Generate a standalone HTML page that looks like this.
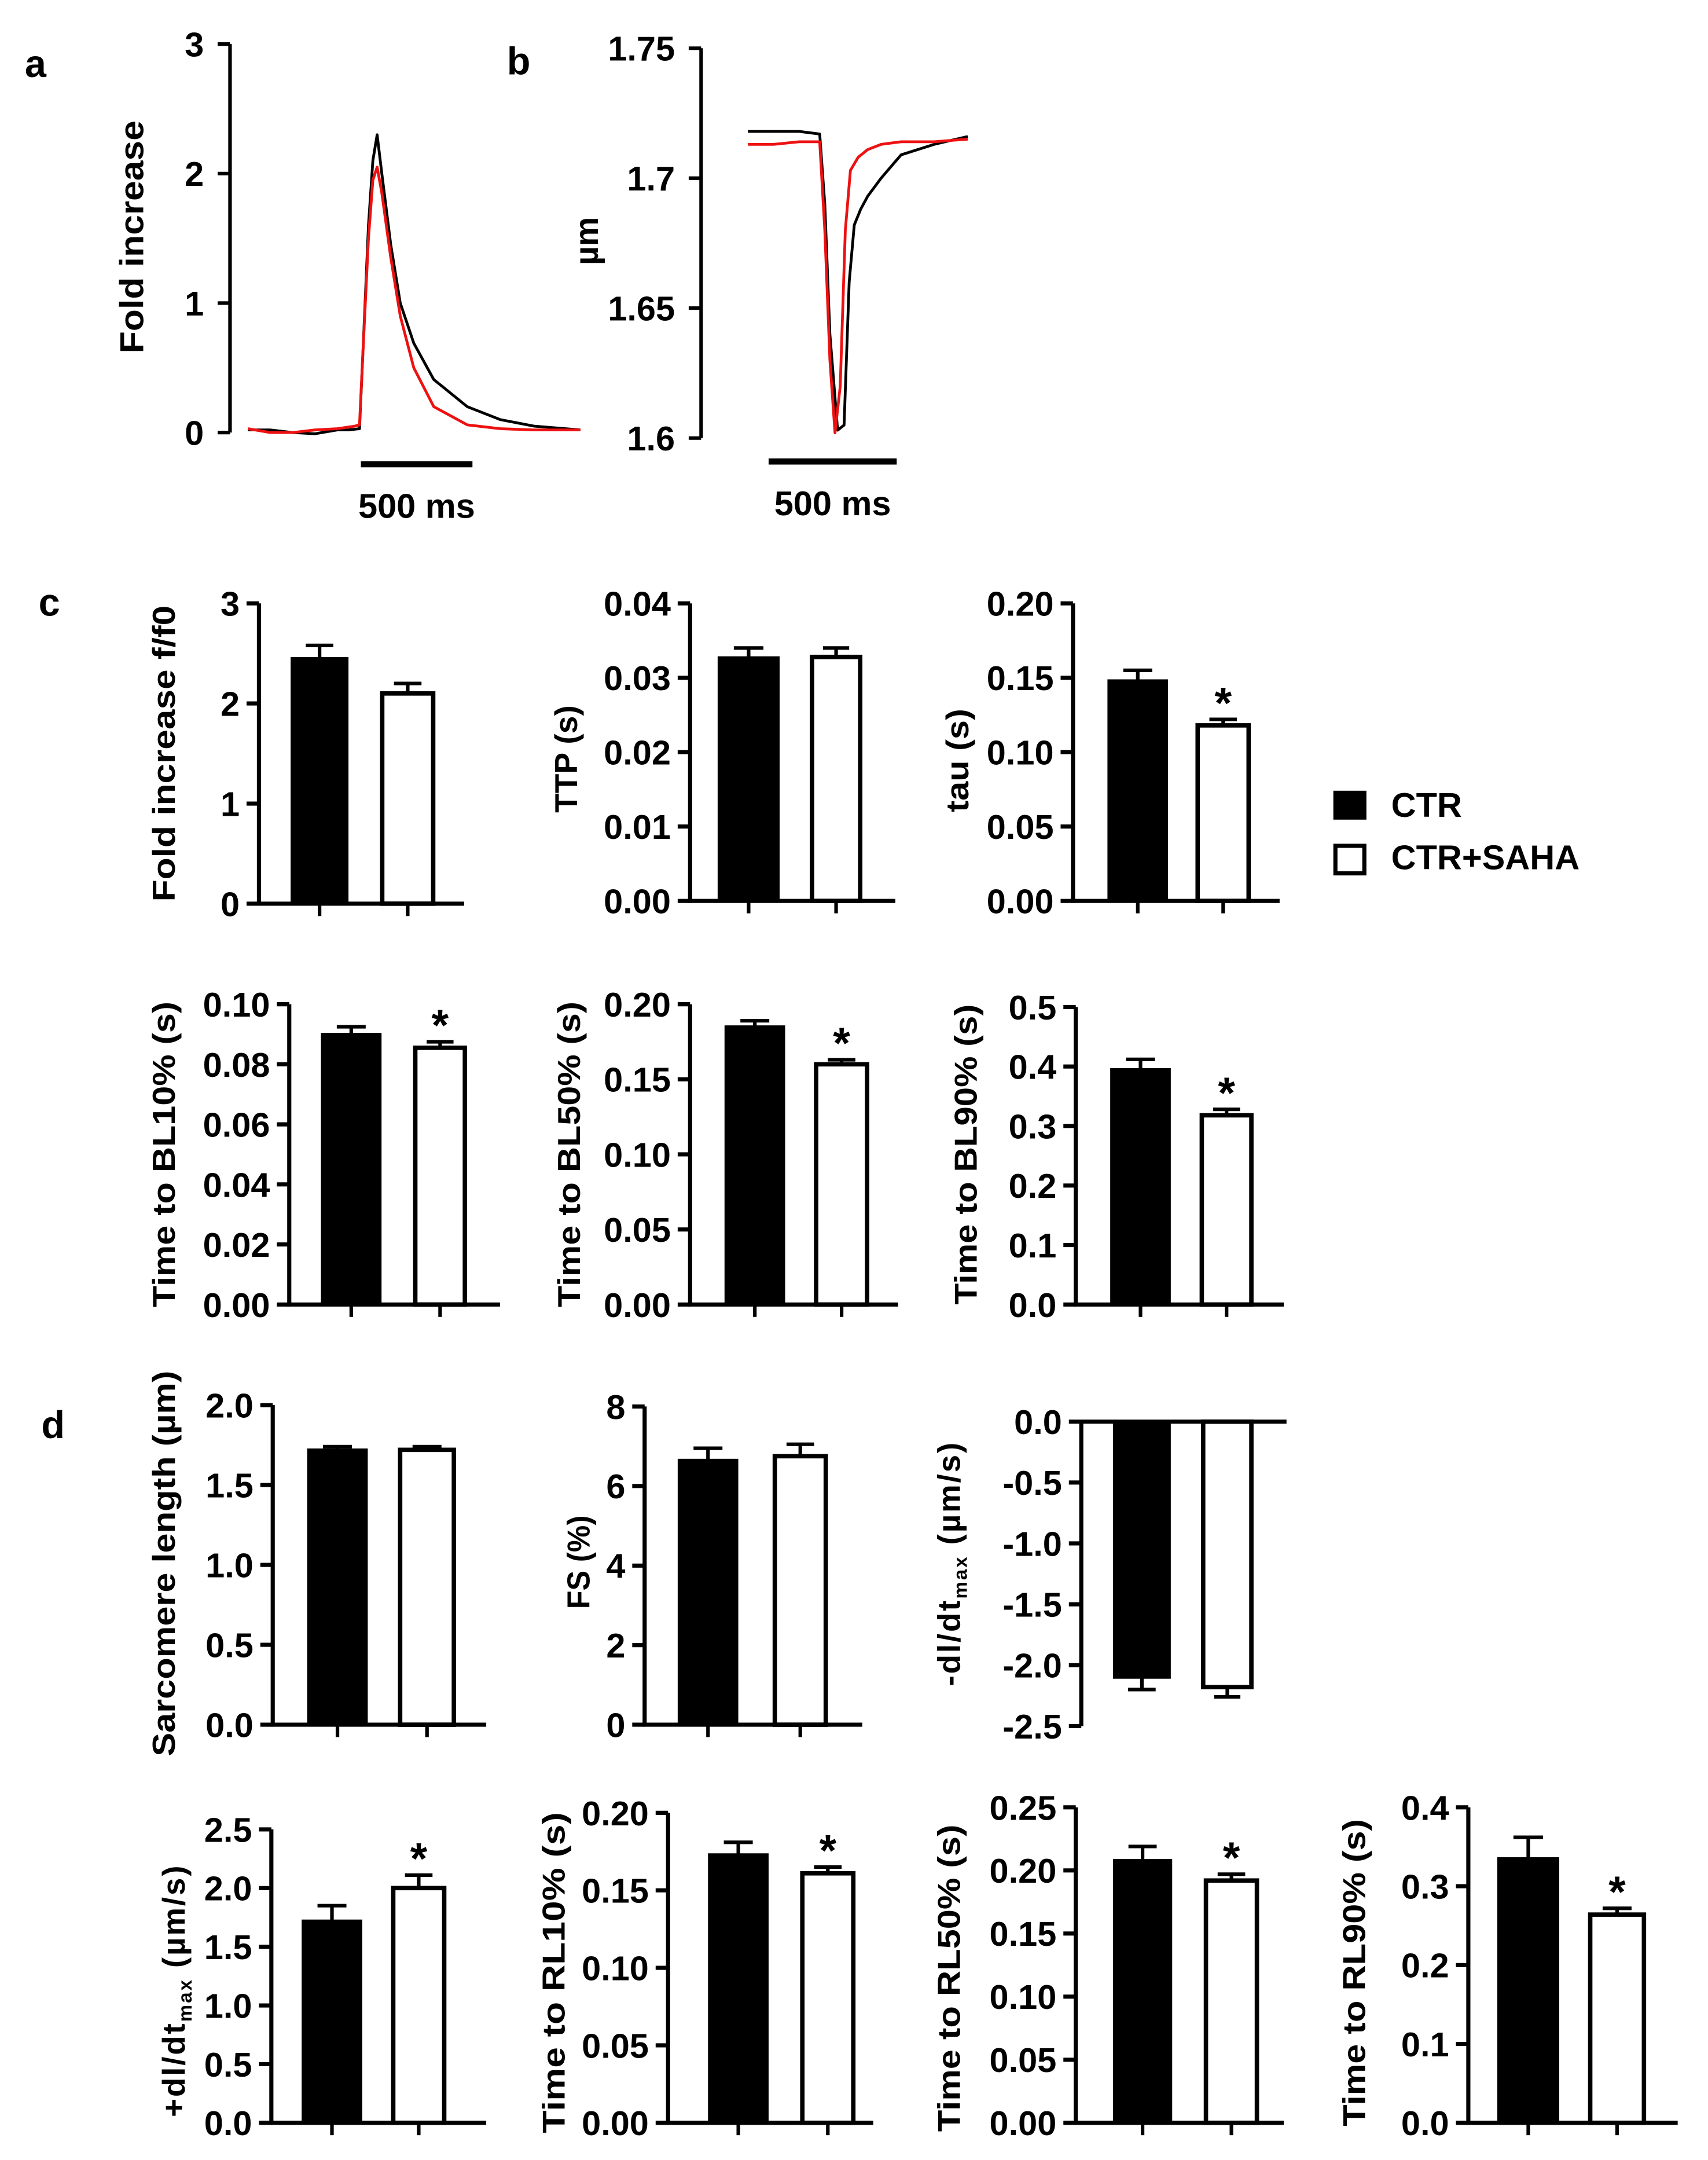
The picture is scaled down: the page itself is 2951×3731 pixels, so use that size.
<!DOCTYPE html>
<html><head><meta charset="utf-8">
<style>
html,body{margin:0;padding:0;background:#fff;}
svg{display:block;}
text{font-family:"Liberation Sans",Arial,sans-serif;font-weight:bold;fill:#000;}
</style></head>
<body>
<svg id="fig" xmlns="http://www.w3.org/2000/svg" width="2951" height="3731" viewBox="0 0 1240 1568" preserveAspectRatio="none"></svg>
<script>
// ---------- DATA ----------
const groups = ['CTR', 'CTR+SAHA'];
// Panel a: calcium transient (time ms, fold increase)
const aTimeBlack = [0,100,200,300,400,450,500,515,540,560,579,600,640,683,743,833,983,1131,1281,1490];
const aValBlack  = [0.02,0.02,0.0,-0.01,0.02,0.02,0.03,0.6,1.6,2.1,2.3,2.0,1.45,1.0,0.69,0.41,0.2,0.1,0.05,0.02];
const aTimeRed   = [0,100,200,300,400,480,500,515,540,560,579,600,640,683,743,833,983,1131,1281,1490];
const aValRed    = [0.03,0.0,0.0,0.02,0.03,0.05,0.06,0.6,1.5,1.95,2.05,1.85,1.35,0.9,0.5,0.2,0.06,0.03,0.02,0.02];
const aTicks = [0,1,2,3];
// Panel b: sarcomere length (time ms, µm)
const bTimeBlack = [0,100,200,280,300,320,350,375,395,415,440,467,520,598,727,858];
const bValBlack  = [1.718,1.718,1.718,1.717,1.69,1.64,1.603,1.605,1.66,1.682,1.688,1.693,1.700,1.709,1.713,1.716];
const bTimeRed   = [0,100,200,280,300,320,340,360,380,400,430,467,520,598,727,858];
const bValRed    = [1.713,1.713,1.714,1.714,1.68,1.63,1.602,1.62,1.68,1.703,1.708,1.711,1.713,1.714,1.714,1.715];
const bTicks = [1.6,1.65,1.7,1.75];
const bTickLabels = ['1.6','1.65','1.7','1.75'];

// Panel c bar charts
const c1Values=[2.45,2.1];   const c1Err=[2.58,2.2];   const c1Stars=[false,false];
const c1Ticks=[0,1,2,3];     const c1TickLabels=['0','1','2','3'];
const c2Values=[0.0327,0.0328]; const c2Err=[0.034,0.034]; const c2Stars=[false,false];
const c2Ticks=[0,0.01,0.02,0.03,0.04]; const c2TickLabels=['0.00','0.01','0.02','0.03','0.04'];
const c3Values=[0.148,0.118]; const c3Err=[0.155,0.122]; const c3Stars=[false,true];
const c3Ticks=[0,0.05,0.1,0.15,0.2]; const c3TickLabels=['0.00','0.05','0.10','0.15','0.20'];
const c4Values=[0.09,0.0855]; const c4Err=[0.0925,0.0875]; const c4Stars=[false,true];
const c4Ticks=[0,0.02,0.04,0.06,0.08,0.1]; const c4TickLabels=['0.00','0.02','0.04','0.06','0.08','0.10'];
const c5Values=[0.185,0.160]; const c5Err=[0.189,0.163]; const c5Stars=[false,true];
const c5Ticks=[0,0.05,0.1,0.15,0.2]; const c5TickLabels=['0.00','0.05','0.10','0.15','0.20'];
const c6Values=[0.395,0.318]; const c6Err=[0.412,0.328]; const c6Stars=[false,true];
const c6Ticks=[0,0.1,0.2,0.3,0.4,0.5]; const c6TickLabels=['0.0','0.1','0.2','0.3','0.4','0.5'];
// Panel d bar charts
const d1Values=[1.72,1.72]; const d1Err=[1.74,1.74]; const d1Stars=[false,false];
const d1Ticks=[0,0.5,1,1.5,2]; const d1TickLabels=['0.0','0.5','1.0','1.5','2.0'];
const d2Values=[6.65,6.75]; const d2Err=[6.95,7.05]; const d2Stars=[false,false];
const d2Ticks=[0,2,4,6,8]; const d2TickLabels=['0','2','4','6','8'];
const d3Values=[-2.1,-2.18]; const d3Err=[-2.2,-2.26]; const d3Stars=[false,false];
const d3Ticks=[0,-0.5,-1,-1.5,-2,-2.5]; const d3TickLabels=['0.0','-0.5','-1.0','-1.5','-2.0','-2.5'];
const d4Values=[1.72,2.0]; const d4Err=[1.85,2.11]; const d4Stars=[false,true];
const d4Ticks=[0,0.5,1,1.5,2,2.5]; const d4TickLabels=['0.0','0.5','1.0','1.5','2.0','2.5'];
const d5Values=[0.173,0.161]; const d5Err=[0.181,0.165]; const d5Stars=[false,true];
const d5Ticks=[0,0.05,0.1,0.15,0.2]; const d5TickLabels=['0.00','0.05','0.10','0.15','0.20'];
const d6Values=[0.208,0.192]; const d6Err=[0.219,0.197]; const d6Stars=[false,true];
const d6Ticks=[0,0.05,0.1,0.15,0.2,0.25]; const d6TickLabels=['0.00','0.05','0.10','0.15','0.20','0.25'];
const d7Values=[0.335,0.264]; const d7Err=[0.362,0.272]; const d7Stars=[false,true];
const d7Ticks=[0,0.1,0.2,0.3,0.4]; const d7TickLabels=['0.0','0.1','0.2','0.3','0.4'];

// ---------- DRAWING ----------
const NS='http://www.w3.org/2000/svg';
const svg=document.getElementById('fig');
function mk(tag, attrs, parent){
  const e=document.createElementNS(NS,tag);
  for(const k in attrs) e.setAttribute(k,attrs[k]);
  (parent||svg).appendChild(e);
  return e;
}
function line(x1,y1,x2,y2,w,p,color){
  const l=mk('line',{x1:x1,y1:y1,x2:x2,y2:y2,stroke:color||'#000','stroke-width':w||3},p);
  return l;
}
function txt(x,y,s,size,anchor,p){
  const t=mk('text',{x:x,y:y,'font-size':size,'text-anchor':anchor||'start'},p);
  t.textContent=s;
  return t;
}

// Panel letters
[['a',18,56],['b',368,54],['c',28,447],['d',30,1044]].forEach(function(L){
  const t=txt(L[1],L[2],L[0],28,'start');
  
  
});

// ---- Trace panel helper
function tracePanel(id, cfg, tB, vB, tR, vR, ticks, tickLabels){
  const g=mk('g',{});
  
  
  const y=v=> cfg.yBot + (v-cfg.vBot)/(cfg.vTop-cfg.vBot)*(cfg.yTop-cfg.yBot);
  const x=t=> cfg.x0 + t*cfg.pxPerMs;
  const ax=line(cfg.ax,cfg.yTop,cfg.ax,cfg.yBot,2.6,g);
  
  
  ticks.forEach(function(v,i){
    line(cfg.ax-9,y(v),cfg.ax,y(v),2.6,g);
    const t=txt(cfg.ax-19,y(v)+9,tickLabels[i],25,'end',g);
    
    
  });
  function poly(ts,vs,color,name){
    const pts=ts.map((t,i)=>x(t).toFixed(1)+','+y(vs[i]).toFixed(1)).join(' ');
    const p=mk('polyline',{points:pts,fill:'none',stroke:color,'stroke-width':2,'stroke-linejoin':'round'},g);
    
    
  }
  poly(tB,vB,'#000','ctr-trace');
  poly(tR,vR,'#ee1111','ctr-saha-trace');
  const sb=line(cfg.sbX,cfg.sbY,cfg.sbX+500*cfg.pxPerMs,cfg.sbY,4.5,g);
  
  
  const st=txt(cfg.sbX+250*cfg.pxPerMs,cfg.sbY+39,'500 ms',25,'middle',g);
  
  
  const tt=mk('text',{transform:'translate('+cfg.titleX+','+cfg.titleY+') rotate(-90)','font-size':24,'text-anchor':'middle'},g);
  tt.textContent=cfg.title;
  if(cfg.titleLen){tt.setAttribute('textLength',cfg.titleLen);tt.setAttribute('lengthAdjust','spacingAndGlyphs');}
  
  
}

tracePanel('panel-a-calcium-trace',
  {ax:167,yTop:32,yBot:314,vTop:3,vBot:0,x0:180,pxPerMs:0.162,sbX:262,sbY:337,
   title:'Fold increase',titleX:104,titleY:172,titleLen:169},
  aTimeBlack,aValBlack,aTimeRed,aValRed,aTicks,['0','1','2','3']);
tracePanel('panel-b-sarcomere-trace',
  {ax:509,yTop:35,yBot:318,vTop:1.75,vBot:1.6,x0:543,pxPerMs:0.186,sbX:558,sbY:335,
   title:'µm',titleX:434,titleY:175,titleLen:35},
  bTimeBlack,bValBlack,bTimeRed,bValRed,bTicks,bTickLabels);

// ---- Bar chart helper
function barChart(id, cfg, ticks, tickLabels, values, errs, stars){
  const g=mk('g',{});
  
  
  const y=v=> cfg.yBot + (v-cfg.vBot)/(cfg.vTop-cfg.vBot)*(cfg.yTop-cfg.yBot);
  const y0=y(0);
  const ax=line(cfg.ax,cfg.yTop,cfg.ax,cfg.yBot,3,g);
  
  
  ticks.forEach(function(v,i){
    line(cfg.ax-9,y(v),cfg.ax,y(v),3,g);
    const t=txt(cfg.ax-14,y(v)+9,tickLabels[i],25,'end',g);
    
    
  });
  values.forEach(function(v,i){
    const b=cfg.bars[i];
    const top=Math.min(y(v),y0), h=Math.abs(y(v)-y0);
    const w=b[1]-b[0];
    const cx=(b[0]+b[1])/2;
    // error bar
    const ey=y(errs[i]), vy=y(v);
    const stem=line(cx,vy,cx,ey,2.6,g);
    
    
    line(cx-w*0.25,ey,cx+w*0.25,ey,2.6,g);
    let r;
    if(i===0){
      r=mk('rect',{x:b[0],y:top,width:w,height:h,fill:'#000',stroke:'#000','stroke-width':2},g);
    } else {
      r=mk('rect',{x:b[0]+1.5,y:top,width:w-3,height:h,fill:'#fff',stroke:'#000','stroke-width':3.2},g);
    }
    
    
    if(!cfg.noXTicks) line(cx,y0,cx,y0+9,2.6,g);
    if(stars[i]){
      const s=txt(cx,ey-1,'*',32,'middle',g);
      
      
    }
  });
  const base=line(cfg.ax-1.5,y0,cfg.baseEnd,y0,3,g);
  
  
  const tt=mk('text',{transform:'translate('+cfg.titleX+','+cfg.titleY+') rotate(-90)','font-size':23,'text-anchor':'middle'},g);
  if(cfg.sub){
    const a=mk('tspan',{},tt); a.textContent=cfg.title;
    const b=mk('tspan',{'font-size':14,dy:5},tt); b.textContent='max';
    const c=mk('tspan',{dy:-5},tt); c.textContent=cfg.title2;
    tt.setAttribute('letter-spacing','1.2');
  } else {
    tt.textContent=cfg.title;
    tt.setAttribute('textLength',cfg.titleLen);
    tt.setAttribute('lengthAdjust','spacingAndGlyphs');
  }
  
  
}

barChart('chart-fold-increase',{ax:188,baseEnd:337,bars:[[212,252],[276,316]],yTop:438,yBot:656,vTop:3,vBot:0,title:'Fold increase f/f0',titleX:127,titleY:547,titleLen:215},c1Ticks,c1TickLabels,c1Values,c1Err,c1Stars);
barChart('chart-ttp',{ax:501,baseEnd:650,bars:[[522,565],[588,626]],yTop:438,yBot:654,vTop:0.04,vBot:0,title:'TTP (s)',titleX:419,titleY:551,titleLen:78},c2Ticks,c2TickLabels,c2Values,c2Err,c2Stars);
barChart('chart-tau',{ax:779,baseEnd:929,bars:[[805,847],[868,908]],yTop:438,yBot:654,vTop:0.2,vBot:0,title:'tau (s)',titleX:703,titleY:552,titleLen:75},c3Ticks,c3TickLabels,c3Values,c3Err,c3Stars);
barChart('chart-time-bl10',{ax:210,baseEnd:363,bars:[[234,276],[300,339]],yTop:729,yBot:947,vTop:0.1,vBot:0,title:'Time to BL10% (s)',titleX:127,titleY:838,titleLen:222},c4Ticks,c4TickLabels,c4Values,c4Err,c4Stars);
barChart('chart-time-bl50',{ax:501,baseEnd:652,bars:[[527,569],[591,631]],yTop:729,yBot:947,vTop:0.2,vBot:0,title:'Time to BL50% (s)',titleX:421,titleY:838,titleLen:222},c5Ticks,c5TickLabels,c5Values,c5Err,c5Stars);
barChart('chart-time-bl90',{ax:781,baseEnd:932,bars:[[807,849],[871,910]],yTop:731,yBot:947,vTop:0.5,vBot:0,title:'Time to BL90% (s)',titleX:709,titleY:838,titleLen:218},c6Ticks,c6TickLabels,c6Values,c6Err,c6Stars);

barChart('chart-sarcomere-length',{ax:198,baseEnd:353,bars:[[224,266],[289,331]],yTop:1020,yBot:1252,vTop:2,vBot:0,title:'Sarcomere length (µm)',titleX:127,titleY:1135,titleLen:280},d1Ticks,d1TickLabels,d1Values,d1Err,d1Stars);
barChart('chart-fs',{ax:468,baseEnd:626,bars:[[493,535],[561,601]],yTop:1021,yBot:1252,vTop:8,vBot:0,title:'FS (%)',titleX:428,titleY:1134,titleLen:68},d2Ticks,d2TickLabels,d2Values,d2Err,d2Stars);
barChart('chart-neg-dldt',{ax:785,baseEnd:934,bars:[[809,849],[872,910]],yTop:1032,yBot:1253,vTop:0,vBot:-2.5,noXTicks:true,sub:true,title:'-dl/dt',title2:' (µm/s)',titleX:697,titleY:1135},d3Ticks,d3TickLabels,d3Values,d3Err,d3Stars);
barChart('chart-pos-dldt',{ax:197,baseEnd:353,bars:[[220,262],[284,324]],yTop:1328,yBot:1541,vTop:2.5,vBot:0,sub:true,title:'+dl/dt',title2:' (µm/s)',titleX:134,titleY:1445},d4Ticks,d4TickLabels,d4Values,d4Err,d4Stars);
barChart('chart-time-rl10',{ax:485,baseEnd:634,bars:[[515,557],[581,621]],yTop:1316,yBot:1541,vTop:0.2,vBot:0,title:'Time to RL10% (s)',titleX:410,titleY:1432,titleLen:233},d5Ticks,d5TickLabels,d5Values,d5Err,d5Stars);
barChart('chart-time-rl50',{ax:781,baseEnd:932,bars:[[809,850],[874,914]],yTop:1312,yBot:1541,vTop:0.25,vBot:0,title:'Time to RL50% (s)',titleX:697,titleY:1436,titleLen:223},d6Ticks,d6TickLabels,d6Values,d6Err,d6Stars);
barChart('chart-time-rl90',{ax:1066,baseEnd:1218,bars:[[1088,1131],[1153,1195]],yTop:1312,yBot:1541,vTop:0.4,vBot:0,title:'Time to RL90% (s)',titleX:991,titleY:1432,titleLen:223},d7Ticks,d7TickLabels,d7Values,d7Err,d7Stars);

// Legend
const lg=mk('g',{});


const s1=mk('rect',{x:968,y:574,width:24,height:21,fill:'#000'},lg);


const l1=txt(1010,593,groups[0],25,'start',lg);


const s2=mk('rect',{x:969.5,y:614,width:21,height:20,fill:'#fff',stroke:'#000','stroke-width':3},lg);


const l2=txt(1010,631,groups[1],25,'start',lg);


</script>
</body></html>
